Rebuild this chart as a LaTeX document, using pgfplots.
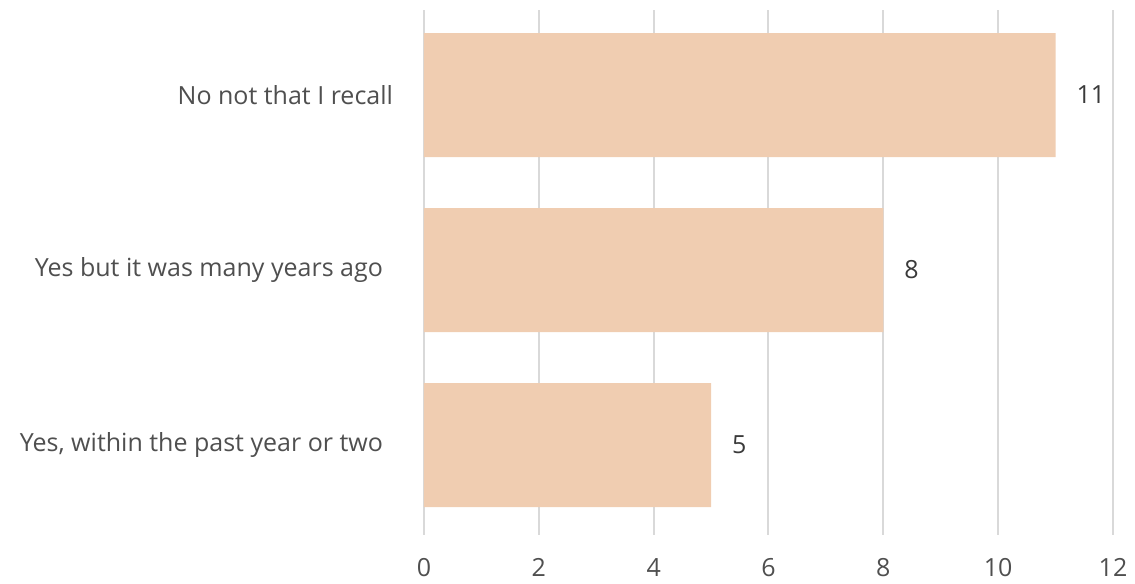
\documentclass[border=0pt]{standalone}
\usepackage{fontspec}
\setmainfont{Open Sans}
\usepackage{pgfplots}
\pgfplotsset{compat=1.18}
\definecolor{barfill}{HTML}{F0CDB1}
\definecolor{gridgray}{HTML}{D9D9D9}
\definecolor{labelgray}{HTML}{4F4F4F}
\definecolor{valgray}{HTML}{3A3A3A}
\begin{document}
\begin{tikzpicture}
\begin{axis}[
  name=ax,
  scale only axis,
  width=344.5pt, height=262.5pt,
  xbar, bar width=62pt,
  xmin=0, xmax=12, ymin=-0.514, ymax=2.486,
  xtick={0,2,...,12},
  ytick={0,1,2},
  yticklabels={{Yes, within the past year or two\kern5pt},
               {Yes but it was many years ago\kern5pt},
               {No not that I recall}},
  axis line style={draw=none},
  major tick length=0pt,
  xmajorgrids, grid style={gridgray, line width=1pt},
  extra x ticks={0}, extra x tick labels={},
  extra x tick style={grid style={gridgray, line width=1pt}},
  tick label style={font=\fontsize{12.5}{15}\selectfont, text=labelgray},
  /pgf/number format/assume math mode=true,
  xticklabel style={yshift=-8pt},
  yticklabel style={xshift=-12pt},
  nodes near coords,
  nodes near coords style={font=\fontsize{12.5}{15}\selectfont, text=valgray, anchor=west, xshift=7pt},
]
\addplot[fill=barfill, draw=none] coordinates {(5,0) (8,1) (11,2)};
\end{axis}
\path[use as bounding box] (ax.south west) ++(-212pt,-21.5pt) rectangle ++(567.5pt,289pt);
\end{tikzpicture}
\end{document}
